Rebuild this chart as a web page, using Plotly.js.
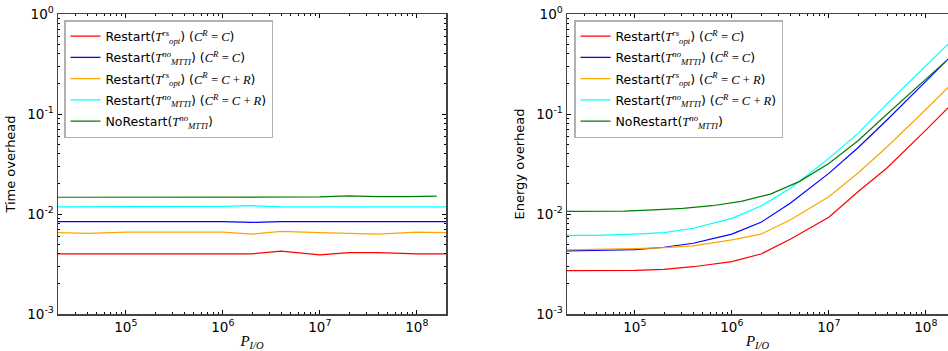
<!DOCTYPE html>
<html>
<head>
<meta charset="utf-8">
<script src="https://cdn.plot.ly/plotly-3.0.1.min.js"></script>
<style>html,body{margin:0;padding:0;background:#fff;}#chart{width:948px;height:351px;}</style>
</head>
<body>
<div id="chart"></div>
<script>
// ---- data ----
const pIO = [2e4, 4e4, 1e5, 2e5, 4e5, 1e6, 2e6, 4e6, 1e7, 2e7, 4e7, 1e8, 2e8];
const pIOnoRestart = [19531, 39062, 78125, 156250, 312500, 625000, 1250000, 2500000, 5000000, 1e7, 2e7, 4e7, 8e7, 1.6e8];

const M = s => '<span style="font-family:Liberation Serif;font-style:italic">' + s + '</span>';
const seriesNames = [
  'Restart(' + M('T<sup>rs</sup><sub>opt</sub>') + ') (' + M('C<sup>R</sup>\u2009=\u2009C') + ')',
  'Restart(' + M('T<sup>no</sup><sub>MTTI</sub>') + ') (' + M('C<sup>R</sup>\u2009=\u2009C') + ')',
  'Restart(' + M('T<sup>rs</sup><sub>opt</sub>') + ') (' + M('C<sup>R</sup>\u2009=\u2009C\u2009+\u2009R') + ')',
  'Restart(' + M('T<sup>no</sup><sub>MTTI</sub>') + ') (' + M('C<sup>R</sup>\u2009=\u2009C\u2009+\u2009R') + ')',
  'NoRestart(' + M('T<sup>no</sup><sub>MTTI</sub>') + ')'
];

// Time overhead (left)
const timeRestartOptC   = [0.0040, 0.0040, 0.0040, 0.0040, 0.0040, 0.0040, 0.0040, 0.00425, 0.0039, 0.0041, 0.0041, 0.0040, 0.0040];
const timeRestartMttiC  = [0.0084, 0.0084, 0.0084, 0.0084, 0.0084, 0.0084, 0.00825, 0.0084, 0.0084, 0.0084, 0.0084, 0.0084, 0.0084];
const timeRestartOptCR  = [0.0065, 0.0064, 0.0066, 0.0066, 0.0066, 0.0066, 0.0063, 0.0067, 0.0065, 0.0064, 0.0063, 0.0066, 0.0065];
const timeRestartMttiCR = [0.0118, 0.0118, 0.0118, 0.0118, 0.0118, 0.0119, 0.0121, 0.0118, 0.0118, 0.0118, 0.0118, 0.0118, 0.0118];
const timeNoRestart     = [0.0147, 0.0147, 0.0146, 0.0147, 0.0147, 0.0147, 0.0147, 0.0147, 0.0147, 0.0148, 0.0152, 0.0149, 0.0149, 0.0151];

// Energy overhead (right)
const energyRestartOptC   = [0.00271, 0.00271, 0.00273, 0.0028, 0.00297, 0.00334, 0.00398, 0.0056, 0.0093, 0.0167, 0.029, 0.069, 0.135];
const energyRestartMttiC  = [0.00427, 0.0043, 0.0044, 0.00465, 0.0051, 0.0063, 0.00826, 0.0128, 0.0255, 0.046, 0.0877, 0.212, 0.414];
const energyRestartOptCR  = [0.00437, 0.0044, 0.0045, 0.0046, 0.0048, 0.0055, 0.0063, 0.0087, 0.0149, 0.0257, 0.047, 0.111, 0.215];
const energyRestartMttiCR = [0.0061, 0.0061, 0.0063, 0.0065, 0.0072, 0.00905, 0.012, 0.018, 0.036, 0.064, 0.127, 0.302, 0.585];
const energyNoRestart     = [0.0106, 0.0107, 0.0107, 0.0110, 0.0114, 0.0121, 0.0134, 0.0158, 0.0212, 0.032, 0.054, 0.100, 0.185, 0.336];

const colors = ['#ff0000', '#0000ff', '#ffa500', '#00ffff', '#008000'];

const yTickVals = [0.001, 0.01, 0.1, 1];
const yTickText = ['10<sup>-3</sup>', '10<sup>-2</sup>', '10<sup>-1</sup>', '10<sup>0</sup>'];
const xTickVals = [1e5, 1e6, 1e7, 1e8];
const xTickText = ['10<sup>5</sup>', '10<sup>6</sup>', '10<sup>7</sup>', '10<sup>8</sup>'];

// ---- traces ----
const timeSeries = [timeRestartOptC, timeRestartMttiC, timeRestartOptCR, timeRestartMttiCR, timeNoRestart];
const energySeries = [energyRestartOptC, energyRestartMttiC, energyRestartOptCR, energyRestartMttiCR, energyNoRestart];
const traces = [];
timeSeries.forEach((ys, i) => {
  traces.push({
    x: i === 4 ? pIOnoRestart : pIO, y: ys, name: seriesNames[i],
    type: 'scatter', mode: 'lines', xaxis: 'x', yaxis: 'y',
    line: {color: colors[i], width: 1.2}, legend: 'legend', legendgroup: 'L' + i
  });
});
energySeries.forEach((ys, i) => {
  traces.push({
    x: i === 4 ? pIOnoRestart : pIO, y: ys, name: seriesNames[i],
    type: 'scatter', mode: 'lines', xaxis: 'x2', yaxis: 'y2',
    line: {color: colors[i], width: 1.2}, legend: 'legend2', legendgroup: 'R' + i
  });
});

const tickFont = {family: 'DejaVu Sans', size: 13.5, color: '#000'};
const axisCommon = {
  type: 'log', showgrid: false, zeroline: false,
  showline: true, linecolor: '#444', linewidth: 1.5,
  ticks: 'inside', ticklen: 4, tickwidth: 1, tickcolor: '#000',
  minor: {ticks: 'inside', ticklen: 2, tickwidth: 1, tickcolor: '#000', dtick: 'D1', showgrid: false},
  tickfont: tickFont, automargin: false
};
const xTitle = {text: '<i>P</i><sub><i>I/O</i></sub>', font: {family: 'Liberation Serif', size: 15, color: '#000'}, standoff: 6};
const legendCommon = {
  bgcolor: '#fff', bordercolor: '#b0b0b0', borderwidth: 1.5,
  font: {family: 'DejaVu Sans', size: 12.5, color: '#000'},
  xanchor: 'left', yanchor: 'top', tracegroupgap: 2, itemwidth: 30
};

const layout = {
  width: 948, height: 351,
  margin: {l: 0, r: 0, t: 0, b: 0},
  paper_bgcolor: '#fff', plot_bgcolor: '#fff',
  showlegend: true,
  xaxis: Object.assign({}, axisCommon, {
    domain: [58/948, 446/948], range: [Math.log10(2e4), Math.log10(2e8)],
    tickvals: xTickVals, ticktext: xTickText, mirror: 'allticks', anchor: 'y',
    title: xTitle
  }),
  yaxis: Object.assign({}, axisCommon, {
    domain: [1 - 314/351, 1 - 14/351], range: [-3, 0],
    tickvals: yTickVals, ticktext: yTickText, mirror: 'allticks', anchor: 'x',
    title: {text: 'Time overhead', font: {family: 'DejaVu Sans', size: 13, color: '#000'}, standoff: 8}
  }),
  xaxis2: Object.assign({}, axisCommon, {
    domain: [567/948, 1], range: [Math.log10(2e4), Math.log10(2e4) + 381/97],
    tickvals: xTickVals, ticktext: xTickText, mirror: 'allticks', anchor: 'y2',
    title: xTitle
  }),
  yaxis2: Object.assign({}, axisCommon, {
    domain: [1 - 314/351, 1 - 14/351], range: [-3, 0],
    tickvals: yTickVals, ticktext: yTickText, mirror: false, anchor: 'x2',
    title: {text: 'Energy overhead', font: {family: 'DejaVu Sans', size: 13, color: '#000'}, standoff: 8}
  }),
  legend: Object.assign({}, legendCommon, {x: 64/948, y: 1 - 20/351}),
  legend2: Object.assign({}, legendCommon, {x: 574/948, y: 1 - 20/351})
};

Plotly.newPlot('chart', traces, layout, {staticPlot: true, displayModeBar: false});
</script>
</body>
</html>
